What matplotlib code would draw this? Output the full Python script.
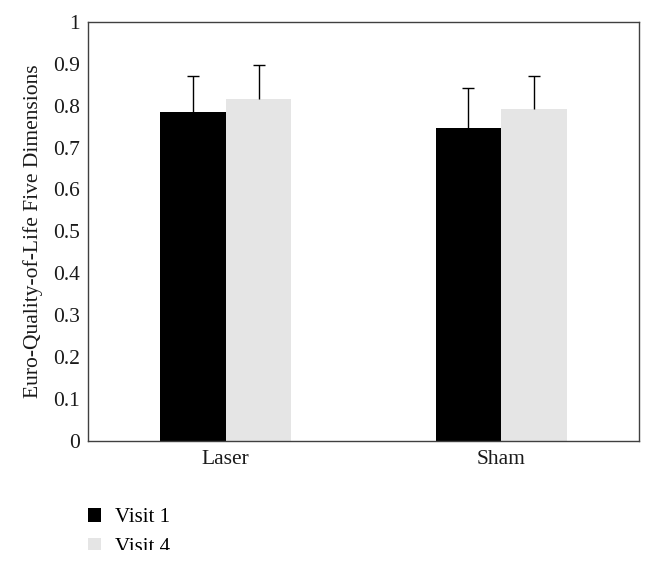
import numpy as np
import matplotlib.pyplot as plt
from matplotlib.patches import Patch, Rectangle

plt.rcParams['font.family'] = ['Liberation Serif', 'DejaVu Serif']

groups = ['Laser', 'Sham']
series = ['Visit 1', 'Visit 4']
visit1 = [0.785, 0.747]
visit4 = [0.816, 0.792]
visit1_err = [0.087, 0.095]
visit4_err = [0.081, 0.080]
colors = ['#000000', '#e5e5e5']

fig = plt.figure(figsize=(6.54, 5.62), dpi=100)
ax = fig.add_axes([0.1346, 0.2158, 0.977 - 0.1346, 0.9609 - 0.2158])

x = np.arange(len(groups))
w = 0.238
for k, (vals, errs) in enumerate([(visit1, visit1_err), (visit4, visit4_err)]):
    pos = x + (k - 0.5) * w
    ax.bar(pos, vals, width=w, color=colors[k], linewidth=0, zorder=2)
    eb = ax.errorbar(pos, vals, yerr=[np.zeros(len(errs)), errs], fmt='none',
                     ecolor='black', elinewidth=1, capsize=4.3, capthick=1, zorder=3)
    # only the upper cap is drawn in the original
    eb[1][0].set_visible(False)

ax.set_xlim(-0.5, 1.5)
ax.set_ylim(0, 1)
ax.set_yticks(np.arange(0, 1.01, 0.1))
ax.set_yticklabels(['0'] + ['%.1f' % v for v in np.arange(0.1, 0.95, 0.1)] + ['1'])
ax.set_xticks(x)
ax.set_xticklabels(groups)
ax.tick_params(length=0, labelsize=15.5, colors='#1a1a1a')
ax.tick_params(axis='y', pad=6)
ax.tick_params(axis='x', pad=7)
for s in ax.spines.values():
    s.set_color('#404040')
    s.set_linewidth(1)
ax.set_ylabel('Euro-Quality-of-Life Five Dimensions', fontsize=15.5, color='#1a1a1a', labelpad=7)

handles = [Patch(facecolor=c, edgecolor='none') for c in colors]
fig.legend(handles, series, loc='upper left', bbox_to_anchor=(0.134, 0.096),
           frameon=False, fontsize=15, borderpad=0, borderaxespad=0,
           handlelength=0.62, handleheight=0.62, handletextpad=0.7, labelspacing=0.5)

# the source image is cut off just under the second legend row
fig.patches.append(Rectangle((0, 0), 1, 0.0214, transform=fig.transFigure,
                             facecolor='white', edgecolor='none', zorder=10))

fig.savefig('out.png', dpi=100)
